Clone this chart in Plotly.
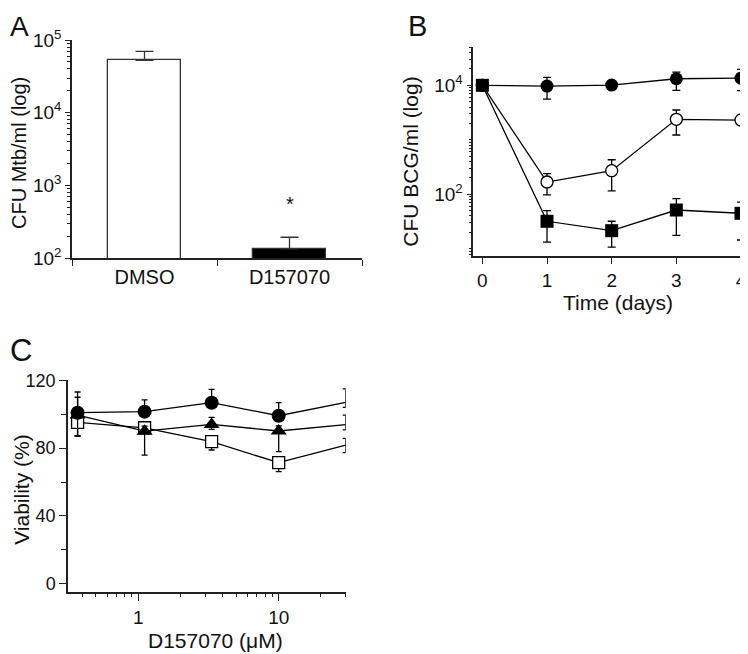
import math
import plotly.graph_objects as go

# ---------------- Panel A data ----------------
a_categories = ["DMSO", "D157070"]
a_values = [52500, 134]
a_err_plus = [17300, 59]
a_asterisk_y = 555
a_tickvals = [100, 1000, 10000, 100000]
a_ticktext = ["10<sup>2</sup>", "10<sup>3</sup>", "10<sup>4</sup>", "10<sup>5</sup>"]

# ---------------- Panel B data ----------------
b_days = [0, 1, 2, 3, 4]
b_filled_circle = [10000, 9700, 10100, 13200, 13500]
b_filled_circle_plus = [0, 4300, 0, 4300, 6100]
b_filled_circle_minus = [0, 4100, 0, 5100, 5500]
b_open_circle = [10000, 168, 271, 2380, 2300]
b_open_circle_plus = [0, 71, 160, 1140, 0]
b_open_circle_minus = [0, 70, 155, 1155, 0]
b_square = [10000, 32, 21.5, 51.5, 44.8]
b_square_plus = [0, 18, 10.5, 31.5, 27.2]
b_square_minus = [0, 18.7, 10.8, 33.8, 30.3]
b_tickvals = [100, 10000]
b_ticktext = ["10<sup>2</sup>", "10<sup>4</sup>"]

# ---------------- Panel C data ----------------
c_conc = [0.37, 1.11, 3.33, 10, 30]
c_circle = [100.9, 101.5, 106.8, 99.1, 107.0]
c_circle_plus = [12.2, 6.9, 7.9, 7.7, 7.9]
c_circle_minus = [3, 3, 3, 3, 3]
c_triangle = [99.5, 90.0, 94.0, 90.1, 93.8]
c_triangle_plus = [10.5, 3, 4.1, 3, 5.7]
c_triangle_minus = [12.5, 14.1, 3, 12.2, 3]
c_square = [95.2, 92.0, 83.8, 71.4, 81.8]
c_square_plus = [3, 3, 3, 3, 4]
c_square_minus = [7.9, 3, 4.9, 5.3, 4.5]
c_ytickvals = [0, 40, 80, 120]
c_xtickvals = [1, 10]
c_xticktext = ["1", "10"]

FONT = "Liberation Sans, Arial, Helvetica, sans-serif"
AX = "#222222"
TXT = "#111111"
W, H = 748, 654
OFF = 8  # page body margin offset


def px_x(p):
    return (p - OFF) / W


def px_y(p):
    return 1 - (p - OFF) / H


fig = go.Figure()

# Panel A bars
fig.add_trace(go.Bar(
    x=a_categories, y=a_values, width=0.5,
    marker=dict(color=["white", "black"], line=dict(color="#333333", width=1.3)),
    error_y=dict(type="data", array=a_err_plus, arrayminus=[0, 0], symmetric=False,
                 color="#333333", thickness=1.3, width=9),
    xaxis="x", yaxis="y", showlegend=False,
))


def err(plus, minus, w=4):
    return dict(type="data", array=plus, arrayminus=minus, symmetric=False,
                color="black", thickness=1.3, width=w)


# Panel B lines
fig.add_trace(go.Scatter(
    x=b_days, y=b_filled_circle, mode="lines+markers",
    line=dict(color="black", width=1.3),
    marker=dict(symbol="circle", size=13, color="black"),
    error_y=err(b_filled_circle_plus, b_filled_circle_minus),
    xaxis="x2", yaxis="y2", showlegend=False, cliponaxis=False,
))
fig.add_trace(go.Scatter(
    x=b_days, y=b_open_circle, mode="lines+markers",
    line=dict(color="black", width=1.3),
    marker=dict(symbol="circle", size=12, color="white", line=dict(color="black", width=1.3)),
    error_y=err(b_open_circle_plus, b_open_circle_minus),
    xaxis="x2", yaxis="y2", showlegend=False, cliponaxis=False,
))
fig.add_trace(go.Scatter(
    x=b_days, y=b_square, mode="lines+markers",
    line=dict(color="black", width=1.3),
    marker=dict(symbol="square", size=13, color="black"),
    error_y=err(b_square_plus, b_square_minus),
    xaxis="x2", yaxis="y2", showlegend=False, cliponaxis=False,
))

# Panel C lines
fig.add_trace(go.Scatter(
    x=c_conc, y=c_square, mode="lines+markers",
    line=dict(color="black", width=1.3),
    marker=dict(symbol="square", size=12, color="white", line=dict(color="black", width=1.3)),
    error_y=err(c_square_plus, c_square_minus, 3),
    xaxis="x3", yaxis="y3", showlegend=False, cliponaxis=False,
))
fig.add_trace(go.Scatter(
    x=c_conc, y=c_triangle, mode="lines+markers",
    line=dict(color="black", width=1.3),
    marker=dict(symbol="triangle-up", size=14, color="black"),
    error_y=err(c_triangle_plus, c_triangle_minus, 3),
    xaxis="x3", yaxis="y3", showlegend=False, cliponaxis=False,
))
fig.add_trace(go.Scatter(
    x=c_conc, y=c_circle, mode="lines+markers",
    line=dict(color="black", width=1.3),
    marker=dict(symbol="circle", size=14, color="black"),
    error_y=err(c_circle_plus, c_circle_minus, 3),
    xaxis="x3", yaxis="y3", showlegend=False, cliponaxis=False,
))


def axis(size=19, **kw):
    d = dict(showline=True, linecolor=AX, linewidth=1.5, ticks="outside",
             tickcolor=AX, tickwidth=1.3, showgrid=False, zeroline=False,
             automargin=False,
             tickfont=dict(family=FONT, size=size, color=TXT))
    d.update(kw)
    return d


LOGMINOR = dict(ticks="outside", ticklen=3, dtick="D1", tickcolor=AX, tickwidth=1)

fig.update_layout(
    width=W, height=H,
    margin=dict(l=0, r=0, t=0, b=0, autoexpand=False),
    paper_bgcolor="white", plot_bgcolor="white",
    font=dict(family=FONT, color=TXT),
    bargap=0,
    xaxis=axis(20, domain=[px_x(72), px_x(362)], anchor="y", type="category",
               range=[-0.5, 1.5], tickson="boundaries", ticklen=6),
    yaxis=axis(19, domain=[px_y(258), px_y(40)], anchor="x", type="log", range=[2, 5],
               tickmode="array", tickvals=a_tickvals, ticktext=a_ticktext, ticklen=5,
               minor=LOGMINOR),
    xaxis2=axis(19, domain=[px_x(473.3), px_x(741)], anchor="y2", range=[-0.14, 4.0],
                tickmode="array", tickvals=b_days, ticklen=7),
    yaxis2=axis(19, domain=[px_y(255.5), px_y(47)], anchor="x2", type="log",
                range=[0.877, 4.703], tickmode="array", tickvals=b_tickvals,
                ticktext=b_ticktext, ticklen=5, minor=LOGMINOR),
    xaxis3=axis(19, domain=[px_x(68), px_x(345.7)], anchor="y3", type="log",
                range=[-0.5, 1.477], tickmode="array", tickvals=c_xtickvals,
                ticktext=c_xticktext, ticklen=8,
                minor=dict(ticks="outside", ticklen=4, dtick="D1", tickcolor=AX, tickwidth=1)),
    yaxis3=axis(18, domain=[px_y(591.7), px_y(380.3)], anchor="x3", range=[-4.7, 120],
                tickmode="array", tickvals=c_ytickvals, ticklen=7,
                minor=dict(ticks="outside", ticklen=5, dtick=20, tickcolor=AX, tickwidth=1.3)),
)

ann = []


def text(x, y, s, size, angle=0):
    ann.append(dict(x=x, y=y, xref="paper", yref="paper", text=s, showarrow=False,
                    textangle=angle, xanchor="center", yanchor="middle",
                    font=dict(family=FONT, size=size, color=TXT)))


# panel letters (kept inside the drawable page area)
text(px_x(19), px_y(26), "A", 28)
text(px_x(417), px_y(26), "B", 29)
text(px_x(20.5), px_y(350), "C", 31)
# axis titles
text(px_x(19.5), px_y(153.5), "CFU Mtb/ml (log)", 20, -90)
text(px_x(411), px_y(161.7), "CFU BCG/ml (log)", 21, -90)
text(px_x(618), px_y(302), "Time (days)", 21)
text(px_x(21.5), px_y(490.3), "Viability (%)", 21, -90)
text(px_x(215), px_y(640), "D157070 (μM)", 21)
# asterisk
ann.append(dict(x="D157070", y=math.log10(a_asterisk_y), xref="x", yref="y",
                text="*", showarrow=False, font=dict(family=FONT, size=20, color=TXT)))

fig.update_layout(annotations=ann)
fig.write_html("out.html")
